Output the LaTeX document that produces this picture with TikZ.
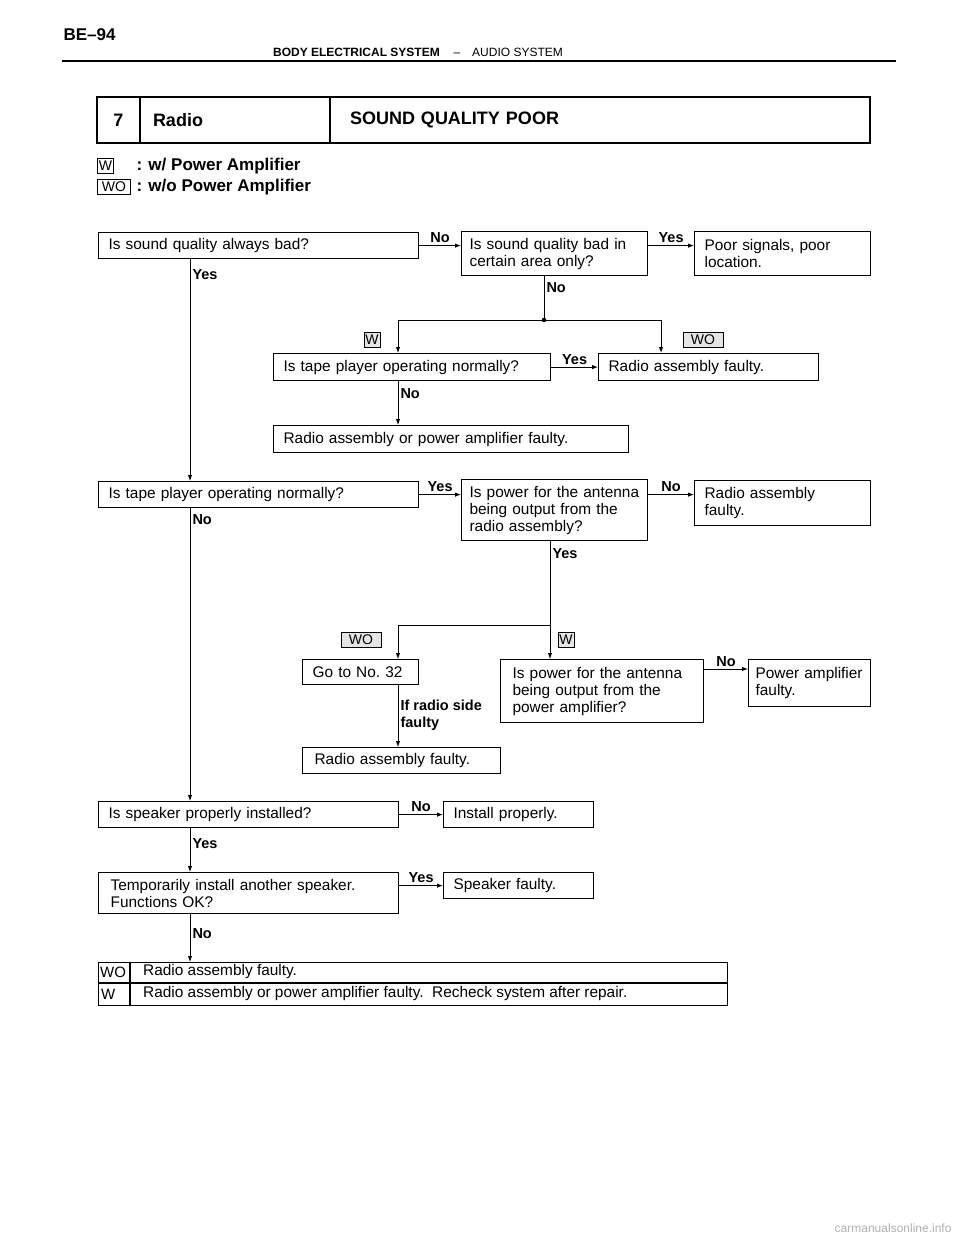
\documentclass[tikz,border=0pt]{standalone}
\usepackage{fontspec}
\setmainfont{Liberation Sans}
\usetikzlibrary{arrows.meta}
\newcommand{\nohyph}{\hyphenpenalty=10000\relax}
\tikzstyle{qbox}=[draw=black,line width=1.2pt,anchor=north west,
                  inner xsep=10pt,inner ysep=0pt,align=left,
                  execute at begin node=\nohyph,
                  font=\fontsize{15.4}{17}\selectfont]
\tikzstyle{tbox}=[draw=black,line width=1.6pt,anchor=north west,outer sep=0pt,
                  minimum height=46pt,inner ysep=0pt,
                  font=\bfseries\fontsize{18}{18}\selectfont]
\tikzstyle{lbl}=[font=\bfseries\fontsize{14.5}{17}\selectfont,inner sep=2pt,align=left]
\tikzstyle{tag}=[draw=black,line width=0.8pt,fill=black!10,inner xsep=1pt,
                 inner ysep=0pt,minimum height=15pt,
                 font=\fontsize{14}{14}\selectfont]
\tikzstyle{arr}=[line width=1pt,-{Latex[length=6pt,width=4.5pt]}]
\tikzstyle{junc}=[circle,fill=black,inner sep=0pt,minimum size=4.5pt]

\begin{document}
\begin{tikzpicture}[x=1pt,y=-1pt]
    \path[use as bounding box,fill=white] (0,0) rectangle (960,1242);
    % page head
    \node (page) at (60,35) [anchor=west,font=\bfseries\fontsize{17}{17}\selectfont] {BE--94};
    \node (sect) at (440,56) [anchor=base east,inner sep=0pt,font=\bfseries\fontsize{12}{12}\selectfont] {BODY ELECTRICAL SYSTEM};
    \node (dash) at (457,56) [anchor=base,inner sep=0pt,font=\fontsize{12}{12}\selectfont] {--};
    \node (subsect) at (472,56) [anchor=base west,inner sep=0pt,font=\fontsize{12}{12}\selectfont] {AUDIO SYSTEM};
    \draw[line width=1.3pt] (62,61) -- (896,61);
    % title bar
    \node (num) at (97,97) [tbox,inner xsep=0pt,minimum width=43pt] {7};
    \node (sub) at (num.north east) [tbox,inner xsep=13pt,text width=164pt] {Radio};
    \node (ttl) at (sub.north east) [tbox,inner xsep=20pt,text width=500pt] {SOUND QUALITY POOR};
    % legend
    \node (lw) at (97,158) [tag,fill=none,anchor=north west,minimum width=16pt] {W};
    \node (lwo) at (97,179) [tag,fill=none,anchor=north west,minimum width=33pt] {WO};
    \node (lwtxt) at (133,166) [anchor=west,font=\bfseries\fontsize{17}{17}\selectfont] {: w/ Power Amplifier};
    \node (lwotxt) at (133,187) [anchor=west,font=\bfseries\fontsize{17}{17}\selectfont] {: w/o Power Amplifier};

    % boxes
    \node (q1) at (98,232) [qbox,text width=300pt,minimum height=26pt] {Is sound quality always bad?};
    \node (q2) at (461,231) [qbox,inner xsep=8pt,text width=170pt,minimum height=44pt] {Is sound quality bad in\\certain area only?};
    \node (a1) at (694,231) [qbox,text width=156pt,minimum height=44pt] {Poor signals, poor\\location.};
    \node (q3) at (273,353) [qbox,text width=257pt,minimum height=27pt] {Is tape player operating normally?};
    \node (a2) at (598,353) [qbox,text width=200pt,minimum height=27pt] {Radio assembly faulty.};
    \node (a3) at (273,425) [qbox,text width=335pt,minimum height=27pt] {Radio assembly or power amplifier faulty.};
    \node (q4) at (98,481) [qbox,text width=300pt,minimum height=26pt] {Is tape player operating normally?};
    \node (q5) at (461,479) [qbox,inner xsep=8pt,text width=170pt,minimum height=61pt] {Is power for the antenna\\being output from the\\radio assembly?};
    \node (a4) at (694,480) [qbox,text width=156pt,minimum height=45pt] {Radio assembly\\faulty.};
    \node (a5) at (302,659) [qbox,text width=96pt,minimum height=25pt] {Go to No.\ 32};
    \node (q6) at (500,659) [qbox,inner xsep=12pt,text width=179pt,minimum height=63pt] {Is power for the antenna\\being output from the\\power amplifier?};
    \node (a6) at (748,659) [qbox,inner xsep=7pt,text width=108pt,minimum height=47pt] {Power amplifier\\faulty.};
    \node (a7) at (302,747) [qbox,inner xsep=12pt,text width=174pt,minimum height=26pt] {Radio assembly faulty.};
    \node (q7) at (98,801) [qbox,text width=280pt,minimum height=26pt] {Is speaker properly installed?};
    \node (a8) at (443,801) [qbox,text width=130pt,minimum height=26pt] {Install properly.};
    \node (q8) at (98,872) [qbox,inner xsep=12pt,text width=276pt,minimum height=41pt] {Temporarily install another speaker.\\Functions OK?};
    \node (a9) at (443,872) [qbox,text width=130pt,minimum height=26pt] {Speaker faulty.};
    \node (res) at (98,962) [qbox,text width=609pt,minimum height=43pt] {};
    \draw[line width=1.2pt] (res.north west) ++(0,21) -- ++(629,0);
    \draw[line width=1.2pt] ([xshift=32pt]res.north west) -- ([xshift=32pt]res.south west);
    \node (reswo) at (100,972) [anchor=west,inner sep=0pt,font=\fontsize{15}{15}\selectfont] {WO};
    \node (resw) at (101,994) [anchor=west,inner sep=0pt,font=\fontsize{15}{15}\selectfont] {W};
    \node (reswotxt) at (143,972) [anchor=west,inner sep=0pt,font=\fontsize{15.4}{15}\selectfont] {Radio assembly faulty.};
    \node (reswtxt) at (143,994) [anchor=west,inner sep=0pt,font=\fontsize{15.4}{15}\selectfont] {Radio assembly or power amplifier faulty.\ \ Recheck system after repair.};

    % main trunk
    \coordinate (trunk) at (190,0);
    \draw[arr] (q1.south -| trunk) -- node[lbl,pos=0.07,right] {Yes} (q4.north -| trunk);
    \draw[arr] (q4.south -| trunk) -- node[lbl,pos=0.04,right] {No} (q7.north -| trunk);
    \draw[arr] (q7.south -| trunk) -- node[lbl,pos=0.36,right] {Yes} (q8.north -| trunk);
    \draw[arr] (q8.south -| trunk) -- node[lbl,pos=0.41,right] {No} (res.north -| trunk);

    % first row
    \draw[arr] (q1.east) -- node[lbl,above] {No} (q1.east -| q2.west);
    \draw[arr] (q2.east |- q1.east) -- node[lbl,above] {Yes} (a1.west |- q1.east);

    % branch after area question
    \coordinate (j1) at (544,320);
    \coordinate (wl) at (398,320);
    \coordinate (wr) at (661,320);
    \draw[line width=1pt] (q2.south -| j1) -- node[lbl,pos=0.27,right] {No} (j1);
    \draw[line width=1pt] (wl) -- (wr);
    \node (d1) at (j1) [junc] {};
    \draw[arr] (wl) -- (wl |- q3.north);
    \draw[arr] (wr) -- (wr |- a2.north);
    \node (tw1) at (372,340) [tag,minimum width=16pt] {W};
    \node (two1) at (703,340) [tag,minimum width=40pt] {WO};
    \draw[arr] (q3.east) -- node[lbl,above] {Yes} (q3.east -| a2.west);
    \draw[arr] (q3.south -| wl) -- node[lbl,pos=0.29,right] {No} (a3.north -| wl);

    % antenna power
    \draw[arr] (q4.east) -- node[lbl,above] {Yes} (q4.east -| q5.west);
    \draw[arr] (q5.east |- q4.east) -- node[lbl,above] {No} (a4.west |- q4.east);
    \coordinate (j2) at (550,625);
    \coordinate (wl2) at (398,625);
    \draw[line width=1pt] (q5.south -| j2) -- node[lbl,pos=0.15,right] {Yes} (j2) -- (wl2);
    \draw[arr] (wl2) -- (wl2 |- a5.north);
    \draw[arr] (j2) -- (j2 |- q6.north);
    \node (two2) at (361,640) [tag,minimum width=40pt] {WO};
    \node (tw2) at (566,640) [tag,minimum width=16pt] {W};
    \draw[arr] ([yshift=-10pt]q6.north east) -- node[lbl,above] {No} ([yshift=-10pt]q6.north east -| a6.west);
    \draw[arr] (a5.south -| wl2) -- node[lbl,pos=0.48,right] {If radio side\\faulty} (a7.north -| wl2);

    % speaker checks
    \draw[arr] (q7.east) -- node[lbl,above] {No} (q7.east -| a8.west);
    \draw[arr] (q8.east |- a9.west) -- node[lbl,above] {Yes} (a9.west);

    \node (wm) at (955,1228) [anchor=east,text=black!30,font=\fontsize{12}{12}\selectfont] {carmanualsonline.info};
\end{tikzpicture}
\end{document}
